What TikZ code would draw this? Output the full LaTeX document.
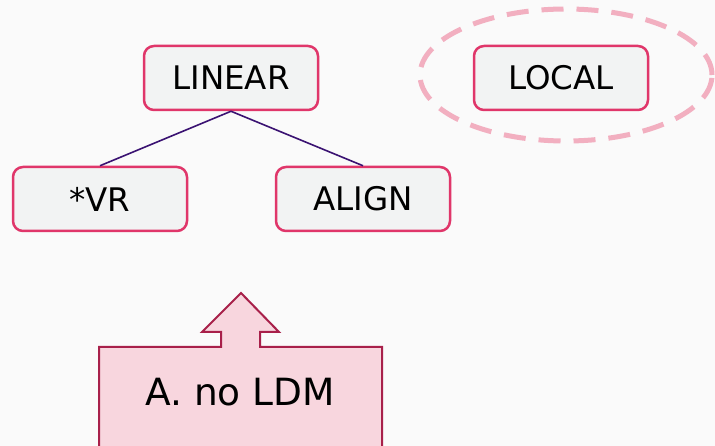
\documentclass[tikz,border=0pt]{standalone}
\usepackage{fontspec}
\setmainfont{DejaVu Sans}
\usetikzlibrary{shapes.geometric}
\definecolor{bgcol}{HTML}{FAFAFA}
\definecolor{boxfill}{HTML}{F2F3F3}
\definecolor{boxline}{HTML}{E0366A}
\definecolor{linkcol}{HTML}{3A1272}
\definecolor{ringcol}{HTML}{F2AFC0}
\definecolor{callfill}{HTML}{F8D6DE}
\definecolor{callline}{HTML}{A8204A}
\tikzset{
  termbox/.style={draw=boxline, line width=2.5pt, fill=boxfill, rounded corners=10pt,
    minimum width=174pt, minimum height=64pt, inner sep=0pt, font=\fontsize{32.5}{36}\selectfont},
  link/.style={draw=linkcol, line width=1.6pt},
  ring/.style={draw=ringcol, line width=5pt, dash pattern=on 22pt off 13pt},
  callout/.style={draw=callline, line width=2pt, fill=callfill, line join=miter}
}
\begin{document}
\begin{tikzpicture}[x=1pt, y=-1pt]
  \useasboundingbox (0,0) rectangle (715,446);
  \fill[bgcol] (0,0) rectangle (715,446);
  \begin{scope}
    \clip (0,0) rectangle (715,446);
    % ring around LOCAL
    \node[ring, ellipse, minimum width=292pt, minimum height=132pt] (ringnode) at (566,75) {};
    % tree boxes
    \node[termbox] (linear) at (231,78) {LINEAR};
    \node[termbox] (vr) at (100,199) {*VR};
    \node[termbox] (align) at (363,199) {ALIGN};
    \node[termbox] (local) at (561,78) {LOCAL};
    \draw[link] (linear.south) -- (vr.north);
    \draw[link] (linear.south) -- (align.north);
    % callout with upward arrow
    \draw[callout] (99,460) -- (99,347) -- (221,347) -- (221,332) -- (202,332)
      -- (241,293) -- (279,332) -- (260,332) -- (260,347) -- (382,347) -- (382,460) -- cycle;
    \node[font=\fontsize{37.5}{42}\selectfont, inner sep=0pt] (note) at (240,392) {A. no LDM};
  \end{scope}
\end{tikzpicture}
\end{document}
